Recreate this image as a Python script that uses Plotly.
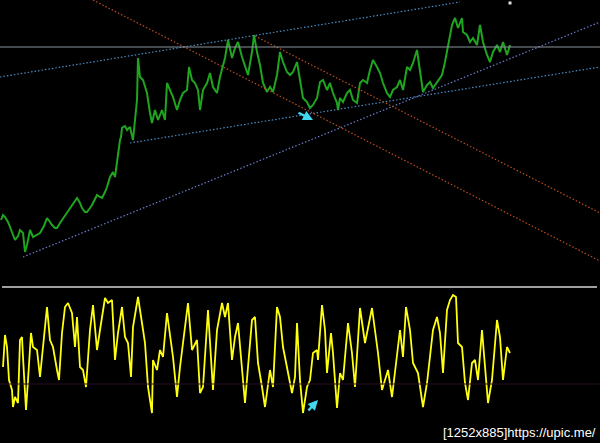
import plotly.graph_objects as go

# ---- price series (green) (bar position, screen-level value)
price_x = [1,3,5,8,10,13,15,18,20,23,25,27,30,33,36,40,44,47,50,52,55,57,60,64,67,70,72,75,77,80,82,85,87,90,92,95,97,100,102,105,107,110,113,115,117,118,120,121,122,123,125,127,130,133,135,137,138,140,143,147,150,152,155,158,162,165,167,170,173,177,180,183,187,189,192,195,198,200,203,207,210,213,217,220,223,225,228,232,235,238,242,245,248,252,254,257,260,263,267,270,273,277,280,283,287,290,293,297,300,303,307,310,313,317,320,323,327,330,333,337,338,340,343,347,350,353,357,360,363,367,370,373,377,380,383,387,390,393,397,400,403,407,410,413,417,420,423,427,430,433,437,442,445,448,452,455,458,462,463,467,470,473,477,480,483,487,490,493,497,500,503,507,510]
price_y = [220,215,217,222,227,234,240,236,230,233,252,245,230,237,235,233,226,218,222,225,228,228,223,217,213,208,205,201,198,203,208,212,212,208,205,199,195,197,198,192,187,177,172,177,162,150,140,137,128,127,126,130,127,140,123,100,58,77,80,93,113,123,110,120,110,120,83,90,97,110,100,93,90,67,80,83,90,110,90,83,73,87,93,77,67,58,40,58,48,42,57,65,75,52,35,52,65,83,92,87,92,75,52,62,72,75,72,62,82,98,102,108,105,98,82,80,90,83,93,103,110,98,102,93,90,100,103,83,80,83,70,60,67,73,83,93,97,90,87,80,90,67,70,63,50,72,92,85,82,88,82,75,62,45,25,18,28,18,32,35,42,38,45,25,42,55,62,52,45,52,42,55,45]

# ---- oscillator (yellow)
osc_x = [3,5,7,9,12,13,15,18,20,22,23,26,28,31,33,37,40,43,47,50,53,57,59,62,65,68,72,75,77,80,83,86,90,93,97,100,105,108,112,115,118,122,125,128,131,133,138,142,145,148,152,153,157,160,163,167,170,173,177,180,185,188,192,197,200,203,208,213,217,222,225,228,232,235,238,242,245,248,252,255,258,262,265,270,273,277,280,283,287,292,295,297,300,303,307,310,313,317,318,322,325,327,331,333,337,340,343,348,352,355,360,365,372,375,378,382,385,388,392,397,400,403,406,410,413,418,423,427,430,433,437,440,443,447,450,453,456,458,462,465,468,472,475,478,482,485,488,492,497,500,503,507,510]
osc_y = [367,335,347,380,390,407,397,403,340,337,357,410,380,333,347,350,377,347,307,340,347,370,380,333,307,303,313,347,317,367,370,387,330,305,350,330,298,303,300,360,333,307,337,343,377,327,297,323,343,387,413,360,370,350,357,313,333,357,397,367,327,303,350,340,393,387,310,390,330,303,317,303,360,337,323,367,403,367,320,317,363,387,407,370,387,307,317,347,367,393,377,323,380,413,387,380,353,350,360,305,330,373,333,353,408,373,380,323,353,387,308,343,308,330,353,390,380,370,397,353,330,357,307,330,363,373,407,383,353,330,317,333,373,310,300,295,297,343,347,383,400,363,360,380,330,370,403,380,320,337,380,347,353]

# ---- trend lines: [x0, y0, x1, y1]
upper_channel = [0, 77, 460, 2]
lower_channel = [130, 143, 600, 67]
support_line = [23, 257, 600, 22]
red_line_a = [93, 0, 600, 261]
red_line_b = [255, 36, 600, 213]
resistance_level = 47
separator_level = 287
osc_zero_level = 384

fig = go.Figure()

def dotted(seg, color):
    fig.add_shape(type="line", x0=seg[0], y0=seg[1], x1=seg[2], y1=seg[3],
                  line=dict(color=color, width=1.2, dash="1.5px,2px"), xref="x", yref="y")

dotted(upper_channel, "#4a8cc2")
dotted(lower_channel, "#4a8cc2")
dotted(support_line, "#6a7ccc")
dotted(red_line_a, "#bc4c22")
dotted(red_line_b, "#bc4c22")

fig.add_shape(type="line", x0=0, x1=600, y0=resistance_level, y1=resistance_level,
              line=dict(color="#8a949e", width=1))
fig.add_shape(type="line", x0=2, x1=597, y0=separator_level, y1=separator_level,
              line=dict(color="#a0a0a0", width=2))
fig.add_shape(type="line", x0=0, x1=600, y0=osc_zero_level, y1=osc_zero_level,
              line=dict(color="#2a0f22", width=1))

fig.add_trace(go.Scatter(x=price_x, y=price_y, mode="lines",
                         line=dict(color="#1fa51f", width=2), hoverinfo="skip"))
fig.add_trace(go.Scatter(x=osc_x, y=osc_y, mode="lines",
                         line=dict(color="#ffff10", width=1.8), hoverinfo="skip"))
fig.add_trace(go.Scatter(x=[510], y=[3], mode="markers",
                         marker=dict(color="#e0e0e0", size=3, symbol="square"), hoverinfo="skip"))

# arrows
arrows = [(313, 120, 297, 112), (318, 400, 307, 412)]
for (x, y, ax, ay) in arrows:
    fig.add_annotation(x=x, y=y, ax=ax, ay=ay, xref="x", yref="y", axref="x", ayref="y",
                       showarrow=True, arrowhead=2, arrowsize=0.8, arrowwidth=2.5,
                       arrowcolor="#3fd8ee", text="")

fig.add_annotation(x=598, y=432, xref="x", yref="y", text="[1252x885]https://upic.me/",
                   showarrow=False, xanchor="right", yanchor="middle",
                   font=dict(family="Liberation Sans", size=13, color="#ffffff"))

fig.update_layout(width=600, height=443, margin=dict(l=0, r=0, t=0, b=0),
                  paper_bgcolor="#000000", plot_bgcolor="#000000", showlegend=False,
                  xaxis=dict(range=[0, 600], visible=False, fixedrange=True),
                  yaxis=dict(range=[443, 0], visible=False, fixedrange=True))

fig.write_html("out.html", config={"displayModeBar": False},
               post_script="document.body.style.margin='0';document.body.style.background='#000';")
